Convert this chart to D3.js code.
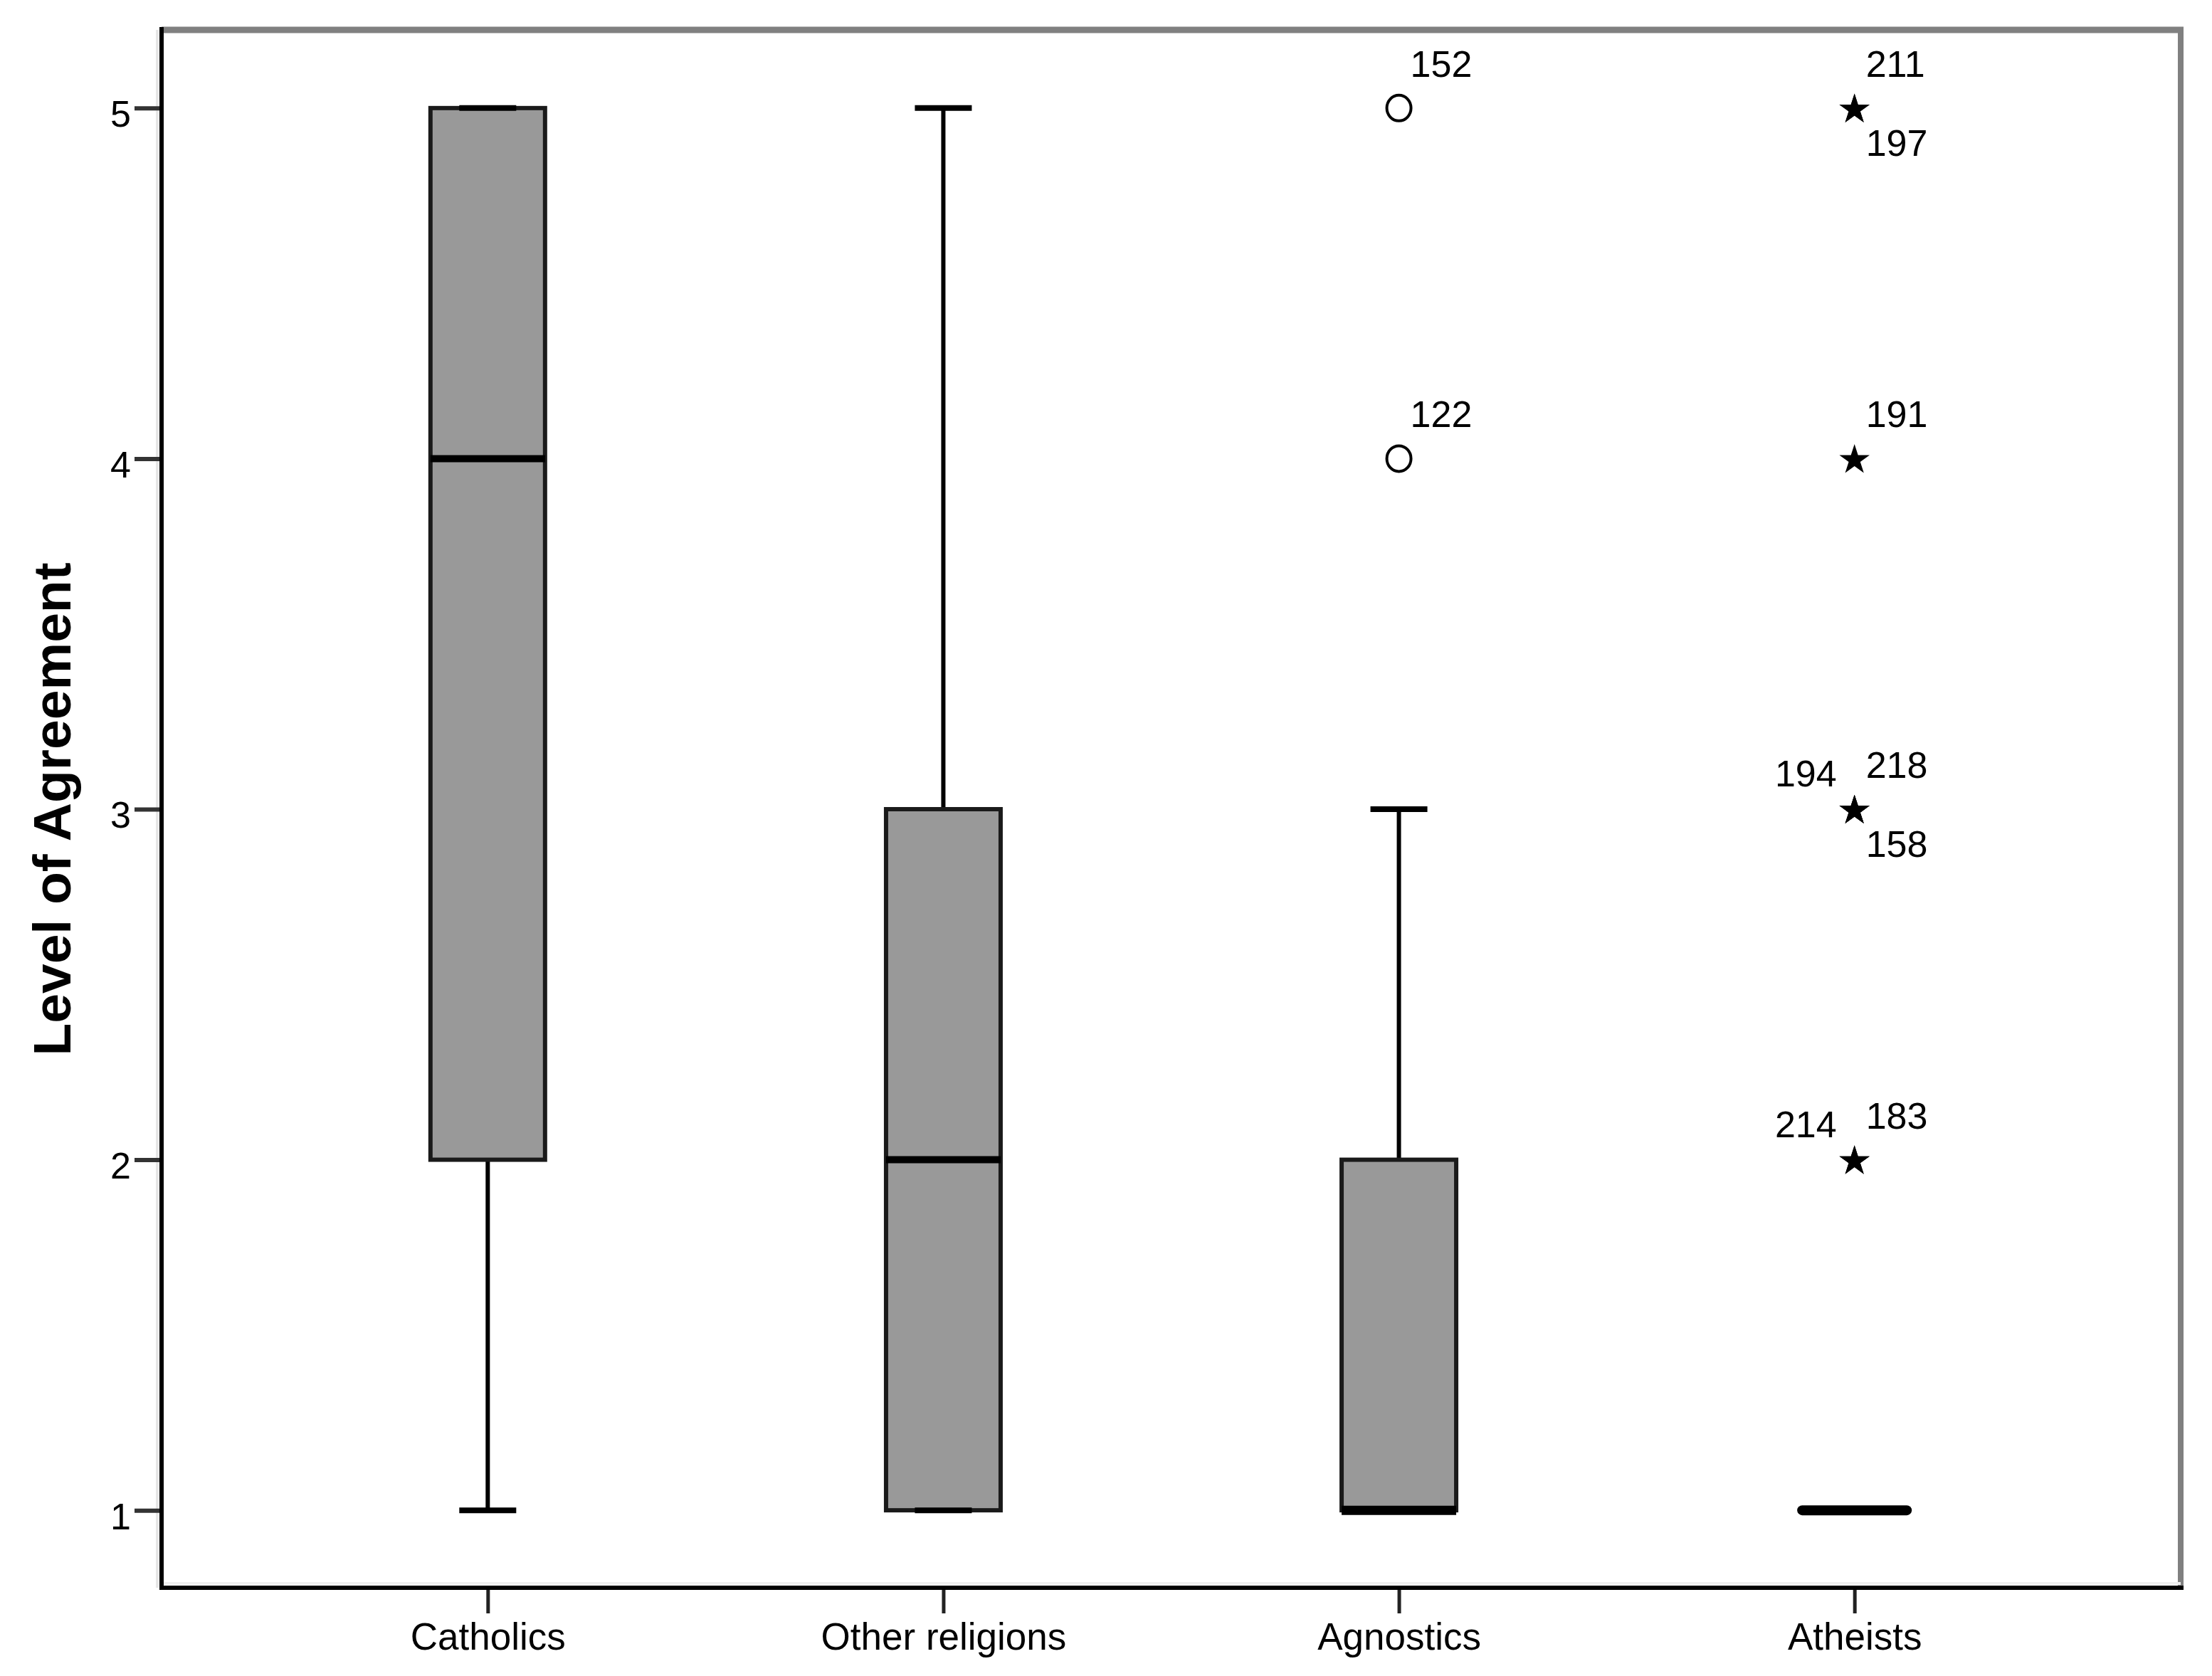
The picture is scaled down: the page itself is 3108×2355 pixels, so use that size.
<!DOCTYPE html>
<html>
<head>
<meta charset="utf-8">
<script src="https://cdn.jsdelivr.net/npm/d3@7"></script>
<style>
  body { margin: 0; background: #fff; }
  svg { display: block; font-family: "Liberation Sans", Arial, sans-serif; }
</style>
</head>
<body>
<div id="chart"></div>
<script>
// box plot summary per group
const groups = ["Catholics", "Other religions", "Agnostics", "Atheists"];
const whiskerLow = [1, 1, 1, 1];
const q1 = [2, 1, 1, 1];
const median = [4, 2, 1, 1];
const q3 = [5, 3, 2, 1];
const whiskerHigh = [5, 5, 3, 1];

// outliers (circles) and extremes (stars), one entry per case id
const outlierGroups = ["Agnostics", "Agnostics", "Atheists", "Atheists", "Atheists", "Atheists", "Atheists", "Atheists", "Atheists", "Atheists"];
const outlierValues = [5, 4, 5, 5, 4, 3, 3, 3, 2, 2];
const outlierIds = ["152", "122", "211", "197", "191", "194", "218", "158", "214", "183"];
const outlierKinds = ["circle", "circle", "star", "star", "star", "star", "star", "star", "star", "star"];
const labelSides = ["ne", "ne", "ne", "se", "ne", "nw", "ne", "se", "nw", "ne"];

const yTicks = [1, 2, 3, 4, 5];
const yTitle = "Level of Agreement";

const W = 3108, H = 2355;
const frame = { left: 227, right: 3064, top: 42, bottom: 2231 };

const svg = d3.select("#chart").append("svg")
  .attr("width", W)
  .attr("height", H);

const x = d3.scalePoint()
  .domain(groups)
  .range([frame.left, frame.right])
  .padding(0.716);

const y = d3.scaleLinear()
  .domain([0.779, 5.223])
  .range([frame.bottom, frame.top]);

const boxW = 161, capW = 80;

// frame: gray top/right, black axes left/bottom
svg.append("line")
  .attr("x1", frame.left).attr("x2", frame.right + 4)
  .attr("y1", frame.top).attr("y2", frame.top)
  .attr("stroke", "#808080").attr("stroke-width", 9);
svg.append("line")
  .attr("x1", frame.right).attr("x2", frame.right)
  .attr("y1", frame.top).attr("y2", frame.bottom)
  .attr("stroke", "#808080").attr("stroke-width", 8);
// faint shading next to axes
svg.append("line")
  .attr("x1", frame.left - 6).attr("x2", frame.left - 6)
  .attr("y1", frame.top).attr("y2", frame.bottom)
  .attr("stroke", "#e6e6e6").attr("stroke-width", 4);
svg.append("line")
  .attr("x1", frame.left).attr("x2", frame.right)
  .attr("y1", frame.bottom - 6).attr("y2", frame.bottom - 6)
  .attr("stroke", "#eeeeee").attr("stroke-width", 4);

// y axis
const yAxis = svg.append("g")
  .attr("transform", `translate(${frame.left},0)`)
  .call(d3.axisLeft(y).tickValues(yTicks).tickSize(38).tickPadding(5).tickFormat(d3.format("d")));
yAxis.select(".domain").remove();
yAxis.selectAll(".tick line").attr("stroke", "#333").attr("stroke-width", 6);
yAxis.selectAll(".tick text")
  .attr("dy", "0.5em")
  .style("font-size", "52px")
  .attr("fill", "#000");

// x axis
const xAxis = svg.append("g")
  .attr("transform", `translate(0,${frame.bottom})`)
  .call(d3.axisBottom(x).tickSize(36).tickPadding(13));
xAxis.select(".domain").remove();
xAxis.selectAll(".tick line").attr("stroke", "#222").attr("stroke-width", 5);
xAxis.selectAll(".tick text")
  .style("font-size", "53px")
  .attr("fill", "#000");

svg.append("line")
  .attr("x1", frame.left).attr("x2", frame.left)
  .attr("y1", frame.top - 4).attr("y2", frame.bottom + 3)
  .attr("stroke", "#000").attr("stroke-width", 6);
svg.append("line")
  .attr("x1", frame.left - 3).attr("x2", frame.right + 4)
  .attr("y1", frame.bottom).attr("y2", frame.bottom)
  .attr("stroke", "#000").attr("stroke-width", 6);

// y axis title
svg.append("text")
  .attr("transform", "rotate(-90)")
  .attr("x", -y(3))
  .attr("y", 99)
  .attr("text-anchor", "middle")
  .style("font-size", "75px")
  .style("font-weight", "bold")
  .text(yTitle);

// boxes
const boxData = groups.map((g, i) => ({
  group: g, lo: whiskerLow[i], q1: q1[i], med: median[i], q3: q3[i], hi: whiskerHigh[i]
}));

const boxes = svg.append("g").selectAll("g")
  .data(boxData)
  .enter().append("g");

// whiskers
boxes.filter(d => d.hi > d.q3).append("line")
  .attr("x1", d => x(d.group)).attr("x2", d => x(d.group))
  .attr("y1", d => y(d.q3)).attr("y2", d => y(d.hi))
  .attr("stroke", "#000").attr("stroke-width", 6);
boxes.filter(d => d.lo < d.q1).append("line")
  .attr("x1", d => x(d.group)).attr("x2", d => x(d.group))
  .attr("y1", d => y(d.q1)).attr("y2", d => y(d.lo))
  .attr("stroke", "#000").attr("stroke-width", 6);

// box body
boxes.filter(d => d.q3 > d.q1).append("rect")
  .attr("x", d => x(d.group) - boxW / 2)
  .attr("y", d => y(d.q3))
  .attr("width", boxW)
  .attr("height", d => y(d.q1) - y(d.q3))
  .attr("fill", "#999999")
  .attr("stroke", "#1a1a1a")
  .attr("stroke-width", 6);

// whisker caps
boxes.each(function(d) {
  const g = d3.select(this);
  [d.lo, d.hi].forEach(v => {
    if (d.q3 === d.q1) return;
    g.append("line")
      .attr("x1", x(d.group) - capW / 2).attr("x2", x(d.group) + capW / 2)
      .attr("y1", y(v)).attr("y2", y(v))
      .attr("stroke", "#000").attr("stroke-width", 8);
  });
});

// median (collapsed box drawn as a single thick bar)
boxes.append("line")
  .attr("x1", d => x(d.group) - boxW / 2 + (d.q3 === d.q1 ? 7 : 0))
  .attr("x2", d => x(d.group) + boxW / 2 - (d.q3 === d.q1 ? 7 : 0))
  .attr("y1", d => y(d.med)).attr("y2", d => y(d.med))
  .attr("stroke", "#000")
  .attr("stroke-width", d => (d.q3 === d.q1 ? 14 : (d.med === d.q1 ? 13 : 10)))
  .attr("stroke-linecap", d => (d.q3 === d.q1 ? "round" : "butt"));

// outliers and extremes
const outliers = outlierIds.map((id, i) => ({
  id, group: outlierGroups[i], value: outlierValues[i], kind: outlierKinds[i], side: labelSides[i]
}));

const star = d3.symbol().type(d3.symbolStar).size(560);

const pts = svg.append("g").selectAll("g")
  .data(outliers)
  .enter().append("g")
  .attr("transform", d => `translate(${x(d.group)},${y(d.value)})`);

pts.filter(d => d.kind === "circle").append("ellipse")
  .attr("rx", 17)
  .attr("ry", 18)
  .attr("fill", "none")
  .attr("stroke", "#000")
  .attr("stroke-width", 4);

pts.filter(d => d.kind === "star").append("path")
  .attr("d", star)
  .attr("transform", "translate(0,2)")
  .attr("fill", "#000");

pts.append("text")
  .attr("x", d => (d.side === "nw" ? -25 : 16))
  .attr("y", d => (d.side === "se" ? 67 : d.side === "nw" ? -32 : -44))
  .attr("text-anchor", d => (d.side === "nw" ? "end" : "start"))
  .style("font-size", "52px")
  .text(d => d.id);
</script>
</body>
</html>
